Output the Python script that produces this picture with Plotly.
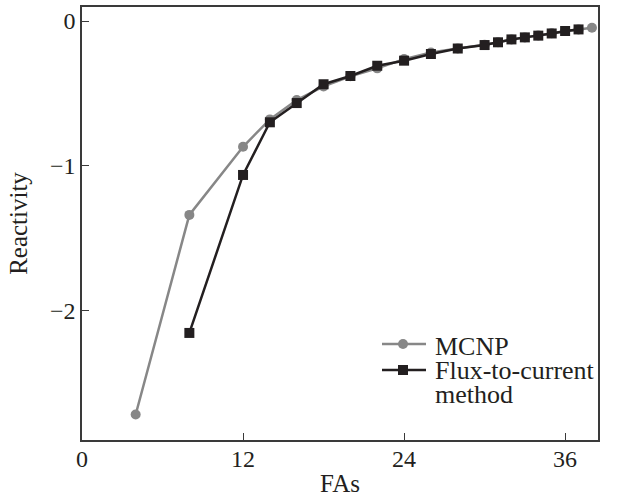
import plotly.graph_objects as go

mcnp_x = [4, 8, 12, 14, 16, 18, 20, 22, 24, 26, 28, 30, 31, 32, 33, 34, 35, 36, 37, 38]
mcnp_y = [-2.72, -1.34, -0.869, -0.68, -0.546, -0.452, -0.382, -0.327, -0.263, -0.218,
          -0.189, -0.164, -0.146, -0.127, -0.113, -0.1, -0.085, -0.069, -0.058, -0.046]
flux_x = [8, 12, 14, 16, 18, 20, 22, 24, 26, 28, 30, 31, 32, 33, 34, 35, 36, 37]
flux_y = [-2.156, -1.064, -0.70, -0.567, -0.437, -0.38, -0.309, -0.274, -0.228,
          -0.19, -0.166, -0.147, -0.127, -0.113, -0.101, -0.086, -0.069, -0.058]

x_ticks = [0, 12, 24, 36]
y_ticks = [0, -1, -2]
y_tick_text = ["0", "\u22121", "\u22122"]
legend_names = ["MCNP", "Flux-to-current", "method"]

gray = "#878787"
dark = "#231f20"
font_family = "Liberation Serif, Times New Roman, serif"

fig = go.Figure()
fig.add_trace(go.Scatter(
    x=mcnp_x, y=mcnp_y, mode="lines+markers", name="MCNP", showlegend=False,
    line=dict(color=gray, width=2.5),
    marker=dict(symbol="circle", size=10, color=gray),
))
fig.add_trace(go.Scatter(
    x=flux_x, y=flux_y, mode="lines+markers", name="Flux-to-current method", showlegend=False,
    line=dict(color=dark, width=2.5),
    marker=dict(symbol="square", size=10, color=dark),
))

axis_common = dict(
    showgrid=False, zeroline=False, showline=True, linecolor="#3a3a3a", linewidth=1.5,
    mirror=True, ticks="inside", ticklen=7, tickwidth=1.2, tickcolor="#3a3a3a",
    tickfont=dict(family=font_family, size=24, color=dark), automargin=False,
)

# custom legend (paper coordinates)
L, R, T, B = 82, 598, 7, 440
def px(x):
    return (x - L) / (R - L)
def py(y):
    return (B - y) / (B - T)

shapes = []
annotations = []
legend_rows = [(344, gray, "circle"), (370, dark, "square")]
for yy, col, sym in legend_rows:
    shapes.append(dict(type="line", xref="paper", yref="paper",
                       x0=px(382), x1=px(426), y0=py(yy), y1=py(yy),
                       line=dict(color=col, width=2.5)))
    shapes.append(dict(type="circle" if sym == "circle" else "rect",
                       xref="paper", yref="paper", xsizemode="pixel", ysizemode="pixel",
                       xanchor=px(403), yanchor=py(yy), x0=-5, x1=5, y0=-5, y1=5,
                       fillcolor=col, line=dict(color=col, width=0)))
for name, yy in zip(legend_names, [346, 370, 394]):
    annotations.append(dict(text=name, xref="paper", yref="paper", x=px(433), y=py(yy),
                            xanchor="left", yanchor="middle", showarrow=False,
                            font=dict(family=font_family, size=26, color=dark)))

fig.update_layout(
    width=619, height=497,
    margin=dict(l=82, r=21, t=7, b=57),
    paper_bgcolor="white", plot_bgcolor="white",
    font=dict(family=font_family, size=24, color=dark),
    xaxis=dict(range=[0, 38.45], tickvals=x_ticks, ticklabelstandoff=-4,
               title=dict(text="FAs", font=dict(size=25)), **axis_common),
    yaxis=dict(range=[-2.896, 0.097], tickvals=y_ticks, ticktext=y_tick_text,
               title=dict(text="Reactivity", font=dict(size=25)), **axis_common),
    shapes=shapes,
    annotations=annotations,
    showlegend=False,
)

fig.write_html("out.html", config={"displayModeBar": False},
               post_script="document.body.style.margin='0';document.body.style.overflow='hidden';")
